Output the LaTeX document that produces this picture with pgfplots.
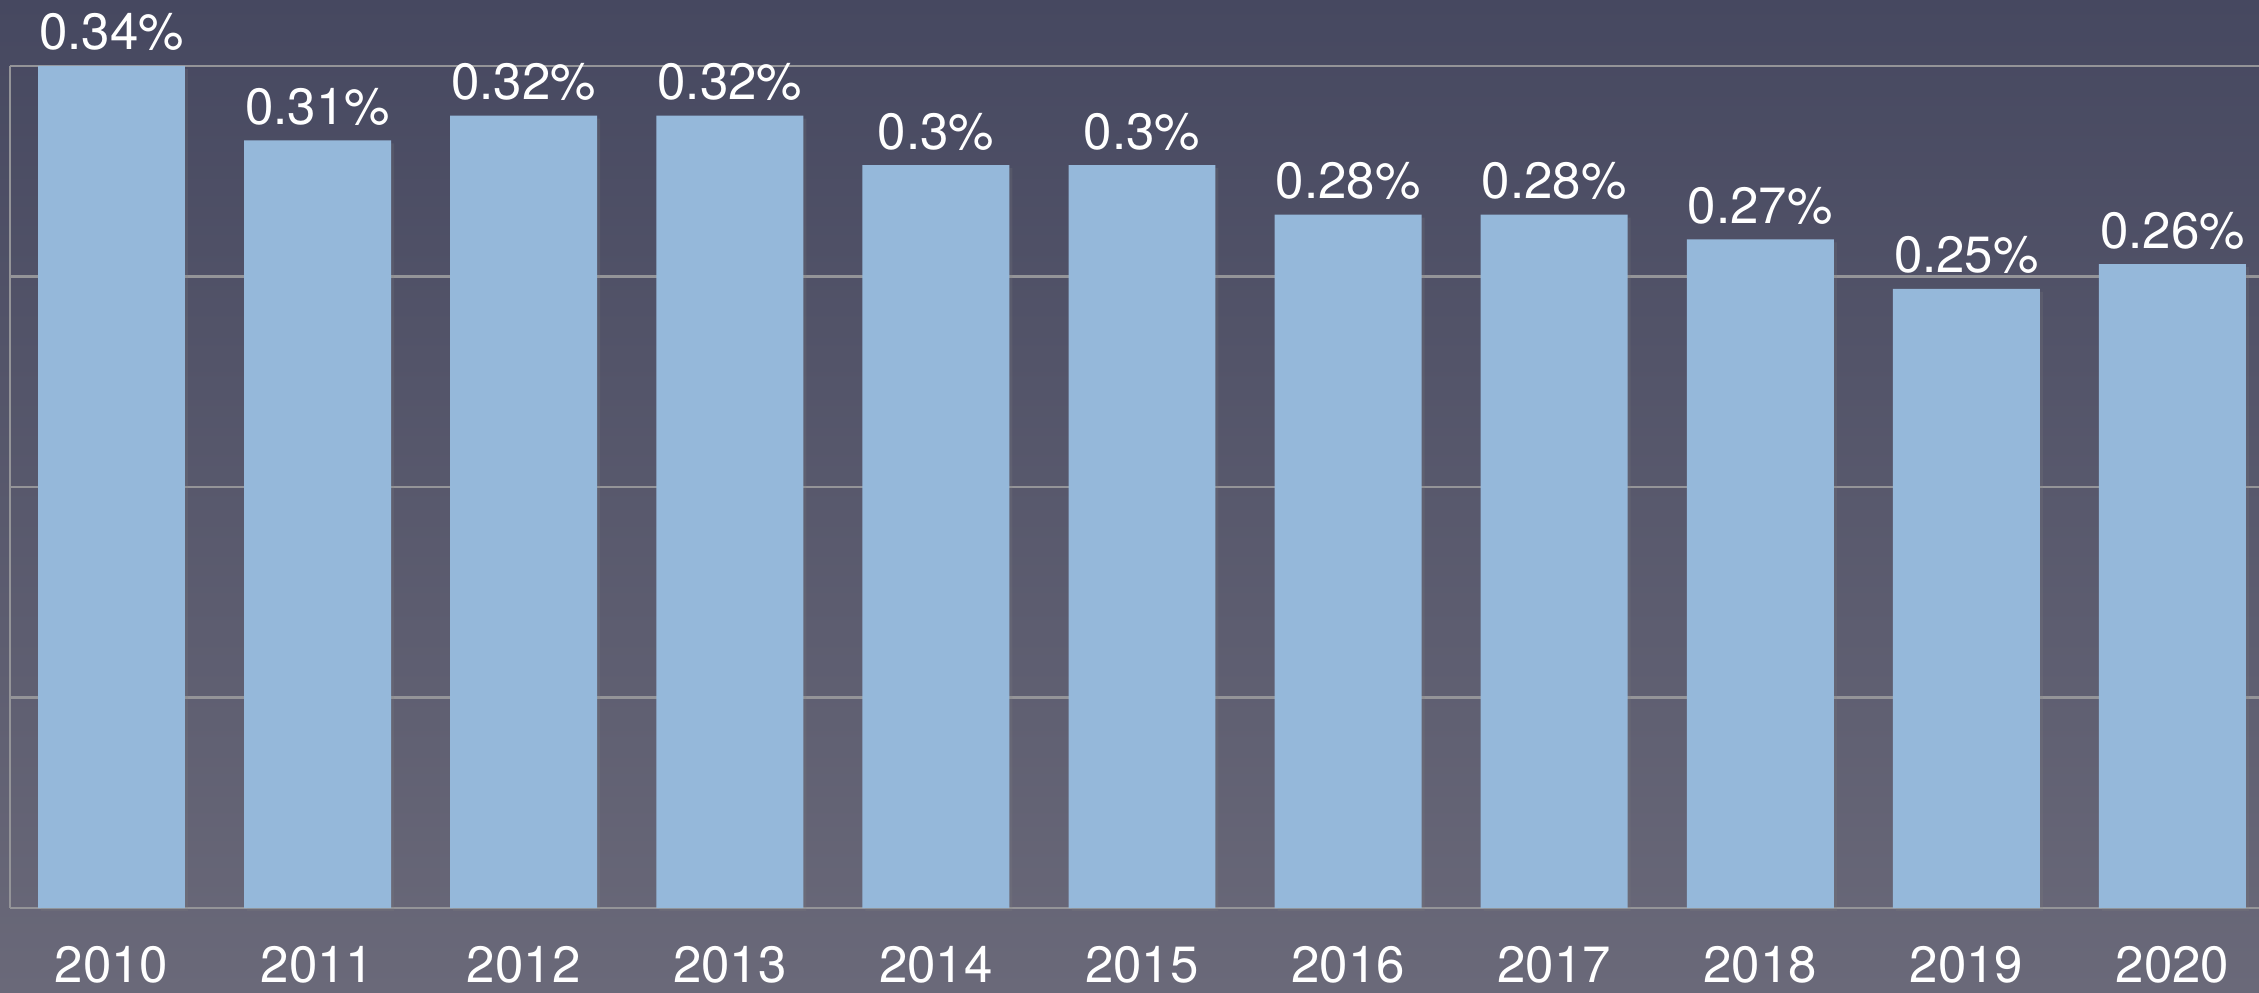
\documentclass[border=0pt]{standalone}
\usepackage{pgfplots}
\pgfplotsset{compat=1.18}
\usetikzlibrary{shadows}
\usepackage{fontspec}
\setmainfont{TeX Gyre Heros}
\definecolor{bgtop}{RGB}{70,72,96}
\definecolor{bgbot}{RGB}{106,105,121}
\definecolor{barc}{RGB}{149,184,218}
\definecolor{gridc}{RGB}{148,148,152}
\begin{document}
\begin{tikzpicture}
\useasboundingbox (0,0) rectangle (1129.5pt,496pt);
\shade[top color=bgtop, bottom color=bgbot] (0,0) rectangle (1129.5pt,496pt);
\begin{axis}[
  at={(5pt,42pt)}, anchor=south west,
  scale only axis, width=1124.5pt, height=421pt,
  xmin=-0.4925, xmax=10.42, ymin=0, ymax=0.34,
  ybar, bar width=0.713,
  clip=false,
  xtick={0,...,10},
  xticklabels={2010,2011,2012,2013,2014,2015,2016,2017,2018,2019,2020},
  xticklabel style={anchor=base, yshift=-37pt, text=white, font=\fontsize{25.5}{30}\selectfont},
  ytick={0,0.085,0.17,0.255,0.34},
  yticklabels={},
  ymajorgrids,
  major grid style={gridc, line width=1.1pt},
  axis lines*=left,
  axis line style={-, gridc, line width=1.3pt},
  major tick length=0pt,
  tick style={draw=none},
  nodes near coords={\pgfmathprintnumber[fixed,precision=2,assume math mode=true]{\pgfplotspointmeta}\%},
  every node near coord/.append style={anchor=base, yshift=8pt, inner sep=0pt, text=white, font=\fontsize{25.5}{30}\selectfont},
]
\addplot[fill=barc, draw=none, drop shadow={shadow xshift=1.5pt, shadow yshift=-1.5pt, opacity=0.2}] coordinates {
(0,0.34) (1,0.31) (2,0.32) (3,0.32) (4,0.30) (5,0.30) (6,0.28) (7,0.28) (8,0.27) (9,0.25) (10,0.26)
};
\end{axis}
\end{tikzpicture}
\end{document}
